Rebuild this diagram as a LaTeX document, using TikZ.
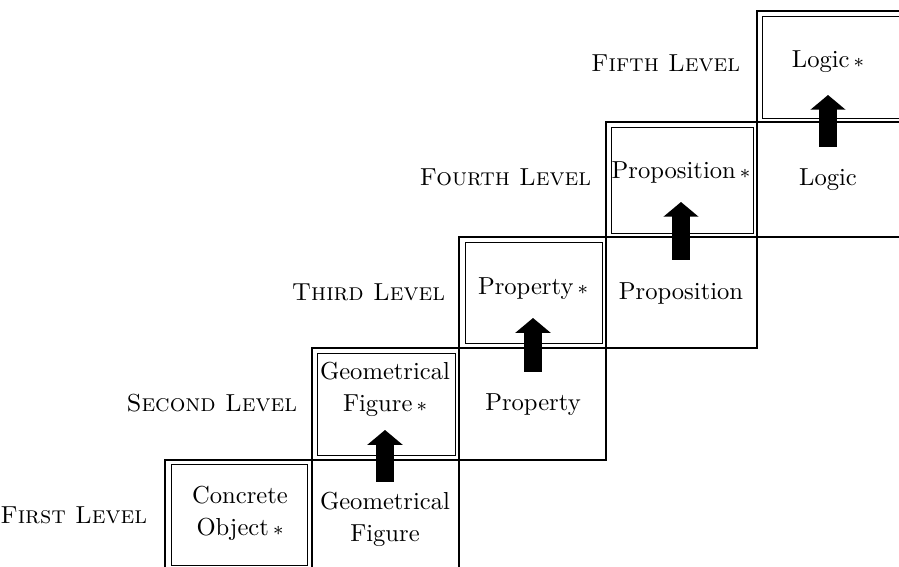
\documentclass[tikz,border=0pt]{standalone}
\usetikzlibrary{arrows.meta}
\newcommand{\stmark}{\,{\footnotesize$\ast$}}
\begin{document}
\begin{tikzpicture}[x=0.4067pt,y=-0.4067pt,
  outer/.style={line width=0.45pt},
  inner/.style={line width=0.4pt},
  txt/.style={align=center,inner sep=1pt,font=\linespread{1.08}\selectfont},
  lvl/.style={anchor=east,inner sep=1pt},
  up/.style={line width=7pt,-{Triangle[width=14pt,length=6pt]}}]
\useasboundingbox (0,0) rectangle (899,567);
\clip (0,0) rectangle (899,567);
% frames, one per level
\draw[outer] (165,460) rectangle (459,575); \draw[outer] (312,460) -- (312,575);
\draw[outer] (312,348) rectangle (606,460); \draw[outer] (459,348) -- (459,460);
\draw[outer] (459,237) rectangle (757,348); \draw[outer] (606,237) -- (606,348);
\draw[outer] (606,122) rectangle (908,237); \draw[outer] (757,122) -- (757,237);
\draw[outer] (757,11) rectangle (1059,122); \draw[outer] (908,11) -- (908,122);
% inner boxes of the starred cells
\draw[inner] (171,464) rectangle (307,565);
\draw[inner] (317,353) rectangle (455,455);
\draw[inner] (465,242) rectangle (602,343);
\draw[inner] (611,127) rectangle (753,233);
\draw[inner] (762,16) rectangle (903,118);
% level names
\node[lvl] (l1) at (150,515) {\textsc{First Level}};
\node[lvl] (l2) at (300,403) {\textsc{Second Level}};
\node[lvl] (l3) at (448,292) {\textsc{Third Level}};
\node[lvl] (l4) at (594,177) {\textsc{Fourth Level}};
\node[lvl] (l5) at (743,63) {\textsc{Fifth Level}};
% cell texts
\node[txt] (s1) at (240,513) {Concrete\\Object\stmark};
\node[txt] (p1) at (385,519) {Geometrical\\Figure};
\node[txt] (s2) at (385,389) {Geometrical\\Figure\stmark};
\node[txt] (p2) at (533,405) {Property};
\node[txt] (s3) at (533,289) {Property\stmark};
\node[txt] (p3) at (681,293) {Proposition};
\node[txt] (s4) at (681,172) {Proposition\stmark};
\node[txt] (p4) at (828,180) {Logic};
\node[txt] (s5) at (828,62) {Logic\stmark};
% arrows
\draw[up] (p1 |- 0,482) -- (s2 |- 0,430);
\draw[up] (p2 |- 0,372) -- (s3 |- 0,318);
\draw[up] (p3 |- 0,260) -- (s4 |- 0,202);
\draw[up] (p4 |- 0,147) -- (s5 |- 0,95);
\end{tikzpicture}
\end{document}
